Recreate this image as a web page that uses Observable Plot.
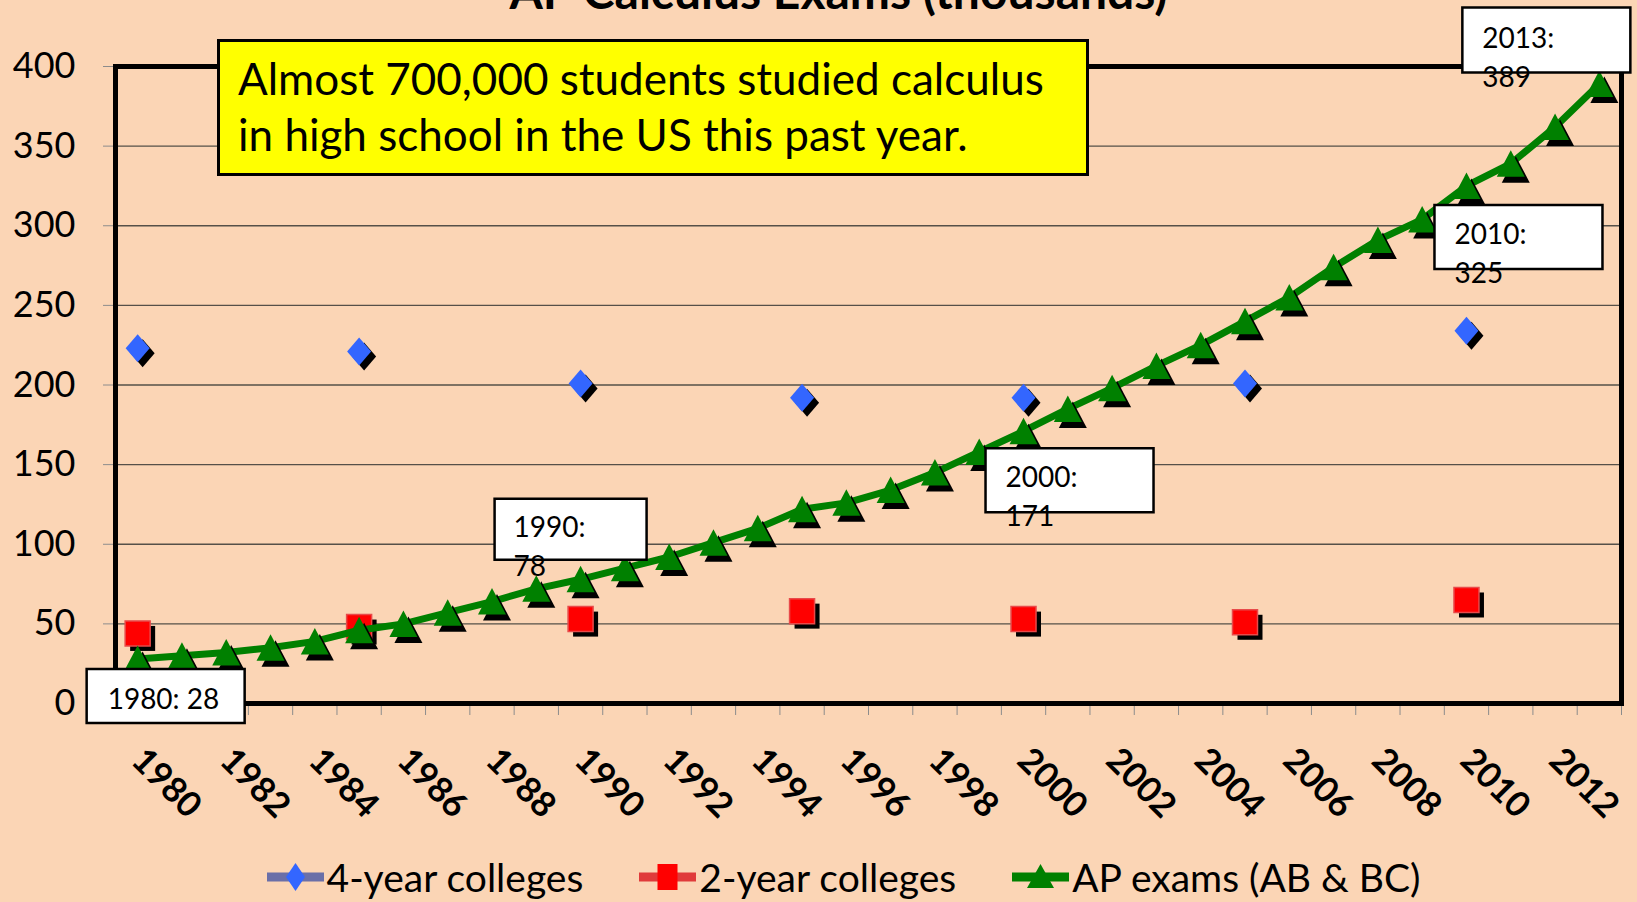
<!DOCTYPE html>
<html>
<head>
<meta charset="utf-8">
<script src="https://cdn.jsdelivr.net/npm/d3@7"></script>
<script src="https://cdn.jsdelivr.net/npm/@observablehq/plot@0.6"></script>
<style>
  html, body { margin: 0; padding: 0; background: #FBD5B5; overflow: hidden; width: 1637px; height: 902px; font-family: Lato, "Open Sans", sans-serif; color: #000; }
  #wrap { position: relative; width: 1637px; height: 902px; }
  #title { position: relative; height: 14px; }
  #title div { position: absolute; left: 40px; right: 0; top: -33px; font-size: 48px; line-height: 48px; font-weight: bold; text-align: center; white-space: nowrap; }
  #chart svg { display: block; overflow: visible; }
  #note { position: absolute; left: 217px; top: 39px; width: 866px; height: 131px; background: #FFFF00; border: 3px solid #000; box-sizing: content-box; font-size: 44px; line-height: 56px; padding: 0; }
  #note div { padding-left: 18px; white-space: nowrap; }
  #note .l1 { margin-top: 8px; }
  #legend { display: flex; justify-content: center; align-items: center; padding-left: 50px; height: 58px; margin-top: 4px; font-size: 39px; line-height: 58px; }
  #legend .item { display: flex; align-items: center; white-space: nowrap; }
  #legend .item + .item { margin-left: 56px; }
  #legend svg { display: block; margin-right: 3px; }
</style>
</head>
<body>
<div id="wrap">
  <div id="title"><div>AP Calculus Exams (thousands)</div></div>
  <div id="chart"></div>
  <div id="legend"></div>
  <div id="note"><div class="l1">Almost 700,000 students studied calculus</div><div>in high school in the US this past year.</div></div>
</div>
<script>
// ---- Data (values in thousands) ----
const apYears = [1980,1981,1982,1983,1984,1985,1986,1987,1988,1989,1990,1991,1992,1993,1994,1995,1996,
                 1997,1998,1999,2000,2001,2002,2003,2004,2005,2006,2007,2008,2009,2010,2011,2012,2013];
const apExams = [28,30,32,35,39,46,50,57,64,72,78,85,92,101,110,122,126,
                 134,145,158,171,185,198,212,225,240,255,274,291,304,325,339,362,389];
const surveyYears = [1980,1985,1990,1995,2000,2005,2010];
const fourYear = [223,221,201,192,192,201,234];
const twoYear = [44,48,53,58,53,51,65];
const xTickLabels = [1980,1982,1984,1986,1988,1990,1992,1994,1996,1998,2000,2002,2004,2006,2008,2010,2012];
const yTicks = [0,50,100,150,200,250,300,350,400];
const labelYears = [1980,1990,2000,2010,2013];
const seriesNames = ["4-year colleges","2-year colleges","AP exams (AB & BC)"];

// ---- Tables built from the arrays ----
const ap = apYears.map((year, i) => ({year, value: apExams[i]}));
const four = surveyYears.map((year, i) => ({year, value: fourYear[i]}));
const two = surveyYears.map((year, i) => ({year, value: twoYear[i]}));
const bandEdges = apYears.map(y => y - 0.5).concat([apYears[apYears.length - 1] + 0.5]);

// ---- Styles / layout ----
const blue = "#3366FF", red = "#FF0000", green = "#008000";
const shadow = {dx: 5, dy: 5, fill: "black", stroke: "none"};
const triShadow = {dx: 5, dy: 6, fill: "black", stroke: "none"};
const diamond = {draw(c) { c.moveTo(0,-14); c.lineTo(12,0); c.lineTo(0,14); c.lineTo(-12,0); c.closePath(); }};
const square = {draw(c) { c.rect(-12.5,-12.5,25,25); }};
const triangle = {draw(c) { c.moveTo(0,-13.5); c.lineTo(14,13); c.lineTo(-14,13); c.closePath(); }};
const boxSym = (w, h) => ({draw(c) { c.rect(-w/2, -h/2, w, h); }});
// per-label layout: box center offset, box size, text left/baseline offset
const labelLayout = {
  1980: {bx: 28, by: 37, w: 158, h: 54, tx: -30, ty: 50, single: true},
  1990: {bx: -10, by: -50, w: 152, h: 61, tx: -67, ty: -42},
  2000: {bx: 46, by: 49, w: 168, h: 64, tx: -18, ty: 56},
  2010: {bx: 52, by: 51, w: 168, h: 64, tx: -12, ty: 58},
  2013: {bx: -53, by: -44, w: 168, h: 65, tx: -117, ty: -36.5}
};
const labelFont = 28, labelLH = 39 / 28;

const labelMarks = labelYears.flatMap(Y => {
  const L = labelLayout[Y];
  const f = d => d.year === Y;
  return [
    Plot.dot(ap, {filter: f, x: "year", y: "value", symbol: boxSym(L.w, L.h), r: 10,
      fill: "white", stroke: "black", strokeWidth: 2.5, dx: L.bx, dy: L.by}),
    Plot.text(ap, {filter: f, x: "year", y: "value",
      text: d => L.single ? `${d.year}: ${d.value}` : `${d.year}:\n${d.value}`,
      textAnchor: "start", lineAnchor: "top", lineHeight: labelLH, fontSize: labelFont,
      fill: "black", dx: L.tx, dy: L.ty - 0.71 * labelLH * labelFont})
  ];
});

const chart = Plot.plot({
  width: 1637,
  height: 830,
  marginLeft: 115,
  marginRight: 16,
  marginTop: 52,
  marginBottom: 141,
  style: {background: "transparent", fontFamily: "Lato, 'Open Sans', sans-serif", fontSize: "36px", overflow: "visible", color: "black"},
  x: {domain: [1979.5, 2013.5], label: null},
  y: {domain: [0, 400], label: null},
  marks: [
    Plot.gridY(yTicks.filter(v => v > 0 && v < 400), {stroke: "#555049", strokeOpacity: 1, strokeWidth: 1.3}),
    Plot.axisY(yTicks, {tickSize: 12, tickPadding: 28, fontSize: 36, stroke: "#8c8c8c", fill: "black", tickFormat: d => String(d), label: null}),
    Plot.axisX(bandEdges, {tickSize: 12, stroke: "#8c8c8c", tickFormat: () => "", label: null}),
    Plot.axisX(xTickLabels, {tickSize: 0, tickPadding: 51, tickRotate: 45, textAnchor: "start", lineAnchor: "middle",
      fontSize: 35, fontWeight: "bold", fill: "black", tickFormat: d => String(d), label: null}),
    Plot.frame({stroke: "black", strokeWidth: 5}),
    // 4-year colleges
    Plot.dot(four, {x: "year", y: "value", symbol: diamond, r: 10, ...shadow}),
    Plot.dot(four, {x: "year", y: "value", symbol: diamond, r: 10, fill: blue, stroke: "none"}),
    // 2-year colleges
    Plot.dot(two, {x: "year", y: "value", symbol: square, r: 10, ...shadow}),
    Plot.dot(two, {x: "year", y: "value", symbol: square, r: 10, fill: red, stroke: "#e84a4a", strokeWidth: 1.5}),
    // AP exams
    Plot.line(ap, {x: "year", y: "value", stroke: green, strokeWidth: 7, strokeLinejoin: "round", strokeLinecap: "round"}),
    Plot.dot(ap, {x: "year", y: "value", symbol: triangle, r: 10, ...triShadow}),
    Plot.dot(ap, {x: "year", y: "value", symbol: triangle, r: 10, fill: green, stroke: "none"}),
    ...labelMarks
  ]
});
document.getElementById("chart").appendChild(chart);

// ---- Legend ----
const swatches = [
  `<line x1="0" y1="20" x2="57" y2="20" stroke="#6a6fa8" stroke-width="9"/><path d="M28.5,6 L38,20 L28.5,34 L19,20Z" fill="${blue}"/>`,
  `<line x1="0" y1="20" x2="57" y2="20" stroke="#e03a3a" stroke-width="9"/><rect x="18.5" y="7" width="20" height="26" fill="${red}"/>`,
  `<line x1="0" y1="20" x2="57" y2="20" stroke="${green}" stroke-width="9"/><path d="M28.5,7 L42,31 L15,31Z" fill="${green}"/>`
];
const legend = document.getElementById("legend");
seriesNames.forEach((name, i) => {
  const item = document.createElement("div");
  item.className = "item";
  item.innerHTML = `<svg width="57" height="40" viewBox="0 0 57 40">${swatches[i]}</svg><span></span>`;
  item.querySelector("span").textContent = name;
  legend.appendChild(item);
});
</script>
</body>
</html>
